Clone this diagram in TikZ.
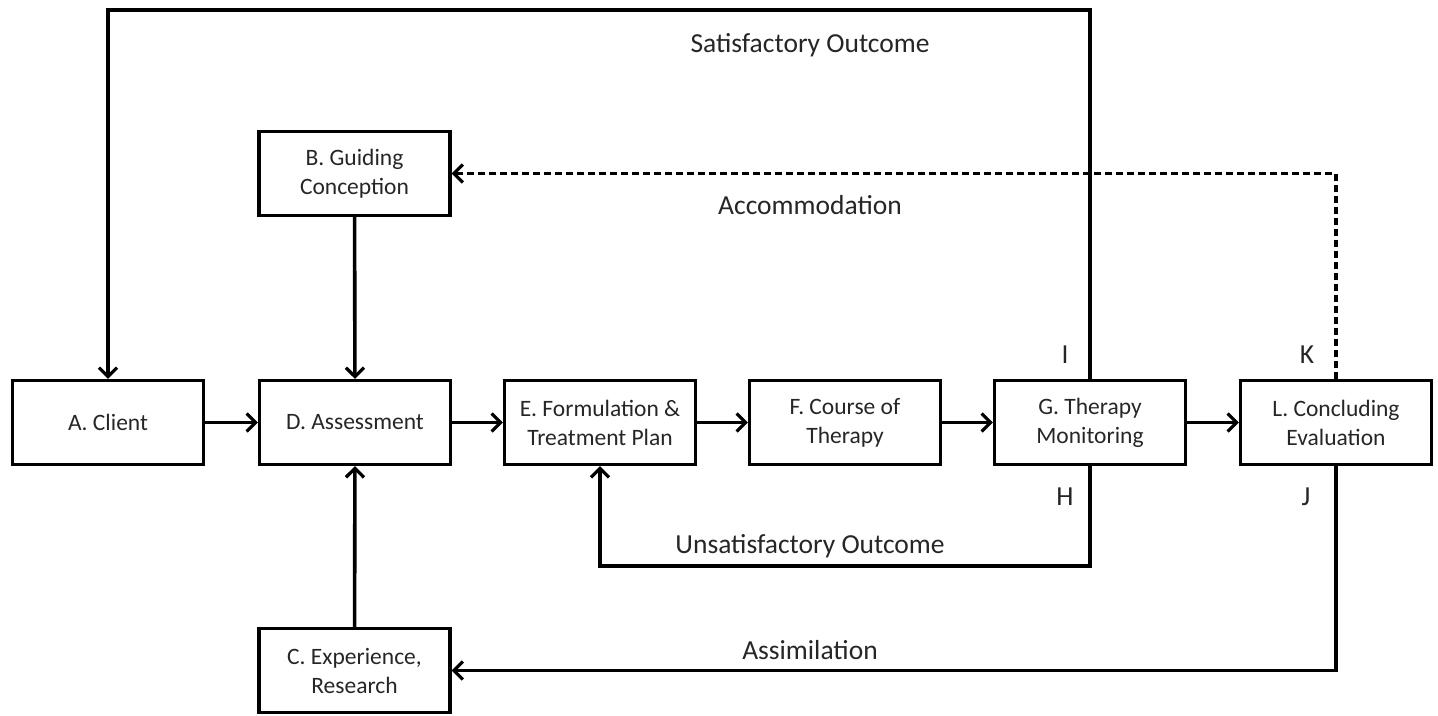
\documentclass[tikz,border=0pt]{standalone}
\usepackage{fontspec}
\setmainfont{Carlito}
\usetikzlibrary{arrows.meta}
\begin{document}
\begin{tikzpicture}[x=1pt,y=-1pt,
  box/.style={draw=black,line width=3.2pt,minimum width=191pt,minimum height=84pt,
    align=center,inner sep=0pt,font=\fontsize{23.5}{29}\selectfont,text=black!85},
  lbl/.style={font=\fontsize{27.5}{32}\selectfont,text=black!85,inner sep=0pt},
  conn/.style={line width=3.6pt,-{Straight Barb[length=9pt,width=18pt,line width=3.2pt]}},
  plain/.style={line width=3.6pt}]
\useasboundingbox (0,0) rectangle (1438,715);
\node[box] (A) at (108,422.5) {A. Client};
\node[box] (D) at (355,422.5) {D. Assessment};
\node[box] (E) at (600,422.5) {E. Formulation \&\\Treatment Plan};
\node[box] (F) at (845,422.5) {F. Course of\\Therapy};
\node[box] (G) at (1090,422.5) {G. Therapy\\Monitoring};
\node[box] (L) at (1336,422.5) {L. Concluding\\Evaluation};
\node[box] (B) at (354.5,173.5) {B. Guiding\\Conception};
\node[box] (C) at (354.5,670.5) {C. Experience,\\Research};
\coordinate (topy) at (0,10);
\coordinate (boty) at (0,566);
% main flow
\draw[conn] (A) -- (D);
\draw[conn] (D) -- (E);
\draw[conn] (E) -- (F);
\draw[conn] (F) -- (G);
\draw[conn] (G) -- (L);
\draw[conn] (B) -- (D);
\draw[conn] (C) -- (D);
% loops
\draw[conn,line join=miter] (G.north) -- (G.north |- topy) -| (A.north);
\draw[conn,line join=miter,dash pattern=on 7pt off 4pt] (L.north) |- (B.east);
\draw[conn,line join=miter] (G.south) -- (G.south |- boty) -| (E.south);
\draw[conn,line join=miter] (L.south) |- (C.east);
% labels
\node[lbl] (sat) at (810,45) {Satisfactory Outcome};
\node[lbl] (acc) at (810,205) {Accommodation};
\node[lbl] (uns) at (810,546) {Unsatisfactory Outcome};
\node[lbl] (ass) at (810,650) {Assimilation};
\node[lbl] (li) at (1065,355) {I};
\node[lbl] (lk) at (1307,355) {K};
\node[lbl] (lh) at (1065,497) {H};
\node[lbl] (lj) at (1306,497) {J};
\end{tikzpicture}
\end{document}
